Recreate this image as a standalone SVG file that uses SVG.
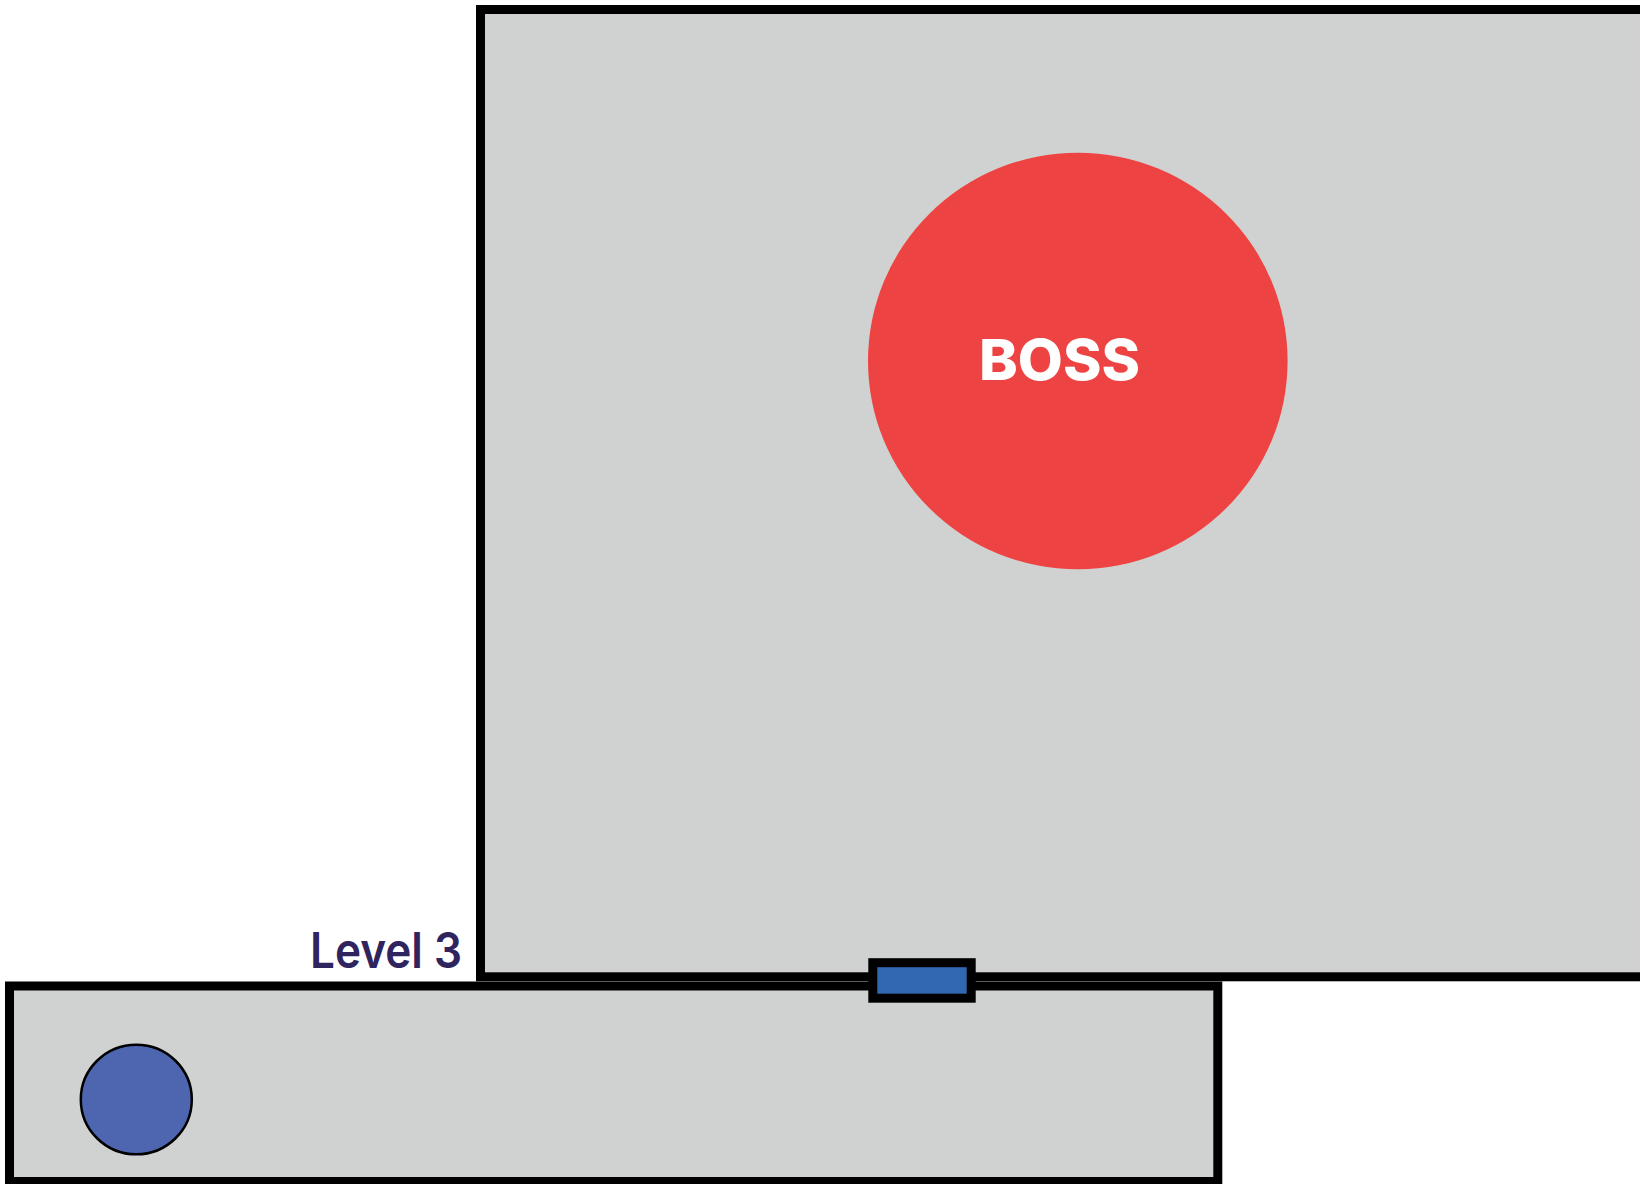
<svg xmlns="http://www.w3.org/2000/svg" width="1640" height="1184" viewBox="0 0 1640 1184">
<style>
.room{fill:#D0D2D1;stroke:#000;stroke-width:9}
.lbl{font-family:Inter,"Liberation Sans",Arial,sans-serif}
</style>
<rect width="1640" height="1184" fill="#fff"/>
<g id="boss-room">
<rect class="room" x="480.5" y="9.5" width="1200" height="967.3"/>
</g>
<g id="level3-room">
<rect class="room" x="9.5" y="986" width="1208.3" height="195.5"/>
</g>
<g id="boss">
<ellipse cx="1077.8" cy="361" rx="209.8" ry="208.3" fill="#EE4343"/>
<text class="lbl" x="979" y="380" font-size="57" font-weight="800" fill="#fff" textLength="161" lengthAdjust="spacingAndGlyphs">BOSS</text>
</g>
<g id="player">
<ellipse cx="136.3" cy="1099.5" rx="55.5" ry="54.8" fill="#4E66B0" stroke="#000" stroke-width="2.5"/>
</g>
<g id="door">
<rect x="872.8" y="962.7" width="98.4" height="35.5" fill="#3267B1" stroke="#000" stroke-width="9"/>
</g>
<g id="label">
<text class="lbl" x="310" y="968.3" font-size="49" font-weight="600" fill="#30245F" textLength="152" lengthAdjust="spacingAndGlyphs">Level 3</text>
</g>
<g id="connectors"></g>
</svg>
